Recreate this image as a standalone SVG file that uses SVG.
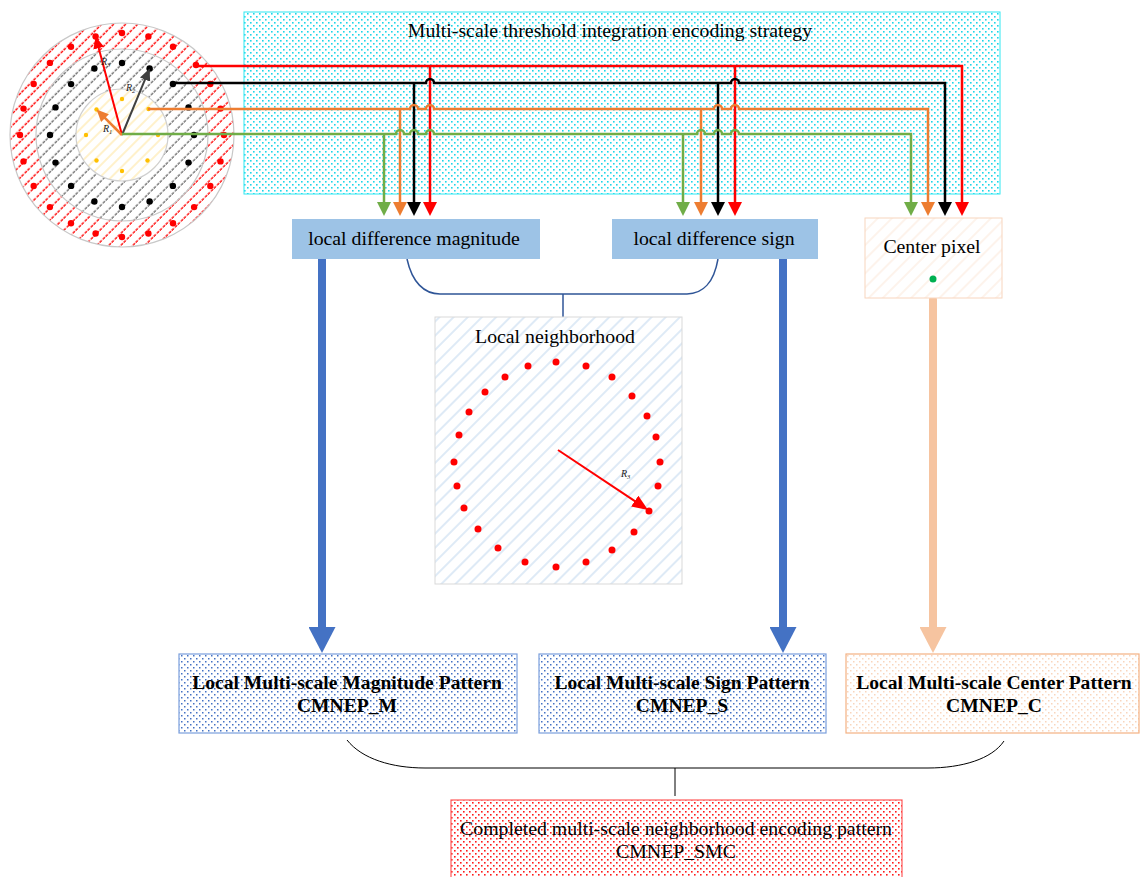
<svg xmlns="http://www.w3.org/2000/svg" width="1140" height="877" viewBox="0 0 1140 877">
<style>
.t{font-family:"Liberation Serif","Times New Roman",serif;fill:#000;text-anchor:middle;font-size:19.8px}
.b{font-weight:bold;font-size:19.6px}
.lbl{font-family:"Liberation Serif",serif;font-style:italic;font-size:10px;fill:#222}
.ln{fill:none;stroke-width:2.5}
.red{stroke:#FF0000}.blk{stroke:#000}.org{stroke:#ED7D31}.grn{stroke:#70AD47}
</style>
<defs>
<pattern id="cyanDots" patternUnits="userSpaceOnUse" width="6" height="6"><rect width="6" height="6" fill="#fff"/><rect x="1" y="1" width="1.6" height="1.6" fill="#1ED6E8"/><rect x="4" y="4" width="1.6" height="1.6" fill="#1ED6E8"/></pattern>
<pattern id="blueDots" patternUnits="userSpaceOnUse" width="6" height="6"><rect width="6" height="6" fill="#fff"/><rect x="1" y="1" width="1.5" height="1.5" fill="#4472C4"/><rect x="4" y="4" width="1.5" height="1.5" fill="#4472C4"/></pattern>
<pattern id="peachDots" patternUnits="userSpaceOnUse" width="6" height="6"><rect width="6" height="6" fill="#fff"/><rect x="1" y="1" width="1.5" height="1.5" fill="#F9D5BC"/><rect x="4" y="4" width="1.5" height="1.5" fill="#F9D5BC"/></pattern>
<pattern id="redDots" patternUnits="userSpaceOnUse" width="6" height="6"><rect width="6" height="6" fill="#fff"/><rect x="1" y="1" width="1.6" height="1.6" fill="#FF1A1A"/><rect x="4" y="4" width="1.6" height="1.6" fill="#FF1A1A"/></pattern>
<pattern id="redHatch" patternUnits="userSpaceOnUse" width="8.5" height="8.5" patternTransform="rotate(45)"><rect width="8.5" height="8.5" fill="#fff"/><line x1="4" y1="0" x2="4" y2="8.5" stroke="#FF0000" stroke-width="1.4" stroke-dasharray="3 1.5"/></pattern>
<pattern id="grayHatch" patternUnits="userSpaceOnUse" width="8.5" height="8.5" patternTransform="rotate(45)"><rect width="8.5" height="8.5" fill="#fff"/><line x1="4" y1="0" x2="4" y2="8.5" stroke="#555" stroke-width="1.2" stroke-dasharray="3 1.5"/></pattern>
<pattern id="yellowHatch" patternUnits="userSpaceOnUse" width="8" height="8" patternTransform="rotate(45)"><rect width="8" height="8" fill="#fff"/><line x1="4" y1="0" x2="4" y2="8" stroke="#FFE8A8" stroke-width="1.2"/></pattern>
<pattern id="blueHatch" patternUnits="userSpaceOnUse" width="10" height="10" patternTransform="rotate(45)"><rect width="10" height="10" fill="#fff"/><line x1="5" y1="0" x2="5" y2="10" stroke="#C9DCF0" stroke-width="1.2"/></pattern>
<pattern id="peachHatch" patternUnits="userSpaceOnUse" width="10" height="10" patternTransform="rotate(45)"><rect width="10" height="10" fill="#fff"/><line x1="5" y1="0" x2="5" y2="10" stroke="#FCEBDF" stroke-width="1.2"/></pattern>
<marker id="aRed" markerUnits="userSpaceOnUse" viewBox="0 0 14 14" markerWidth="14" markerHeight="14" refX="2" refY="7" orient="auto"><path d="M0,0 L14,7 L0,14 z" fill="#FF0000"/></marker>
<marker id="aBlk" markerUnits="userSpaceOnUse" viewBox="0 0 14 14" markerWidth="14" markerHeight="14" refX="2" refY="7" orient="auto"><path d="M0,0 L14,7 L0,14 z" fill="#000"/></marker>
<marker id="aOrg" markerUnits="userSpaceOnUse" viewBox="0 0 14 14" markerWidth="14" markerHeight="14" refX="2" refY="7" orient="auto"><path d="M0,0 L14,7 L0,14 z" fill="#ED7D31"/></marker>
<marker id="aGrn" markerUnits="userSpaceOnUse" viewBox="0 0 14 14" markerWidth="14" markerHeight="14" refX="2" refY="7" orient="auto"><path d="M0,0 L14,7 L0,14 z" fill="#70AD47"/></marker>
<marker id="sRed" markerUnits="userSpaceOnUse" viewBox="0 0 12 11" markerWidth="12" markerHeight="11" refX="2" refY="5.5" orient="auto"><path d="M0,0 L12,5.5 L0,11 z" fill="#FF0000"/></marker>
<marker id="sBlk" markerUnits="userSpaceOnUse" viewBox="0 0 12 11" markerWidth="12" markerHeight="11" refX="2" refY="5.5" orient="auto"><path d="M0,0 L12,5.5 L0,11 z" fill="#404040"/></marker>
<marker id="sOrg" markerUnits="userSpaceOnUse" viewBox="0 0 12 11" markerWidth="12" markerHeight="11" refX="2" refY="5.5" orient="auto"><path d="M0,0 L12,5.5 L0,11 z" fill="#ED7D31"/></marker>
<marker id="nRed" markerUnits="userSpaceOnUse" viewBox="0 0 16 13" markerWidth="16" markerHeight="13" refX="2" refY="6.5" orient="auto"><path d="M0,0 L16,6.5 L0,13 z" fill="#FF0000"/></marker>
<marker id="bigBlue" markerUnits="userSpaceOnUse" viewBox="0 0 26 27" markerWidth="26" markerHeight="27" refX="0" refY="13.5" orient="auto"><path d="M0,0 L26,13.5 L0,27 z" fill="#4472C4"/></marker>
<marker id="bigPeach" markerUnits="userSpaceOnUse" viewBox="0 0 26 27" markerWidth="26" markerHeight="27" refX="0" refY="13.5" orient="auto"><path d="M0,0 L26,13.5 L0,27 z" fill="#F6C4A0"/></marker>
</defs>

<g id="strategy">
<rect x="244" y="12" width="756" height="182" fill="url(#cyanDots)" stroke="#2EE8F2" stroke-width="1"/>
<text class="t" x="610" y="37">Multi-scale threshold integration encoding strategy</text>
</g>

<g id="multiscale-circle">
<circle cx="122" cy="135" r="112" fill="url(#redHatch)" stroke="#C8C8C8" stroke-width="1.2"/>
<circle cx="122" cy="135" r="86" fill="url(#grayHatch)" stroke="#C8C8C8" stroke-width="1.2"/>
<circle cx="122" cy="135" r="46" fill="url(#yellowHatch)" stroke="#D0D0D0" stroke-width="1.2"/>
<g fill="#FF0000">
<circle cx="224" cy="135" r="3.2"/><circle cx="220.5" cy="108.6" r="3.2"/><circle cx="210.3" cy="84" r="3.2"/><circle cx="196" cy="65" r="3.2"/><circle cx="173" cy="46.7" r="3.2"/><circle cx="148.4" cy="36.5" r="3.2"/><circle cx="122" cy="33" r="3.2"/><circle cx="95.6" cy="36.5" r="3.2"/><circle cx="71" cy="46.7" r="3.2"/><circle cx="49.9" cy="62.9" r="3.2"/><circle cx="33.7" cy="84" r="3.2"/><circle cx="23.5" cy="108.6" r="3.2"/><circle cx="20" cy="135" r="3.2"/><circle cx="23.5" cy="161.4" r="3.2"/><circle cx="33.7" cy="186" r="3.2"/><circle cx="49.9" cy="207.1" r="3.2"/><circle cx="71" cy="223.3" r="3.2"/><circle cx="95.6" cy="233.5" r="3.2"/><circle cx="122" cy="237" r="3.2"/><circle cx="148.4" cy="233.5" r="3.2"/><circle cx="173" cy="223.3" r="3.2"/><circle cx="194.1" cy="207.1" r="3.2"/><circle cx="210.3" cy="186" r="3.2"/><circle cx="220.5" cy="161.4" r="3.2"/>
</g>
<g fill="#000">
<circle cx="194" cy="135" r="3.2"/><circle cx="188.5" cy="107.4" r="3.2"/><circle cx="172.9" cy="84" r="3.2"/><circle cx="149.6" cy="68.5" r="3.2"/><circle cx="122" cy="63" r="3.2"/><circle cx="94.4" cy="68.5" r="3.2"/><circle cx="71.1" cy="84.1" r="3.2"/><circle cx="55.5" cy="107.4" r="3.2"/><circle cx="50" cy="135" r="3.2"/><circle cx="55.5" cy="162.6" r="3.2"/><circle cx="71.1" cy="185.9" r="3.2"/><circle cx="94.4" cy="201.5" r="3.2"/><circle cx="122" cy="207" r="3.2"/><circle cx="149.6" cy="201.5" r="3.2"/><circle cx="172.9" cy="185.9" r="3.2"/><circle cx="188.5" cy="162.6" r="3.2"/>
</g>
<g fill="#FFC000">
<circle cx="158" cy="135" r="2.2"/><circle cx="148.5" cy="109" r="2.2"/><circle cx="122" cy="99" r="2.2"/><circle cx="96.5" cy="109.5" r="2.2"/><circle cx="86" cy="135" r="2.2"/><circle cx="96.5" cy="160.5" r="2.2"/><circle cx="122" cy="171" r="2.2"/><circle cx="147.5" cy="160.5" r="2.2"/>
</g>
<line x1="122" y1="135" x2="98.2" y2="46.2" stroke="#FF0000" stroke-width="2" marker-end="url(#sRed)"/>
<line x1="122" y1="135" x2="145.8" y2="77.7" stroke="#404040" stroke-width="2" marker-end="url(#sBlk)"/>
<line x1="122" y1="135" x2="103.6" y2="116.6" stroke="#ED7D31" stroke-width="2.6" marker-end="url(#sOrg)"/>
<text class="lbl" x="101" y="65">R<tspan font-size="6.5" dy="2">3</tspan></text>
<text class="lbl" x="126" y="91">R<tspan font-size="6.5" dy="2">2</tspan></text>
<text class="lbl" x="103" y="132">R<tspan font-size="6.5" dy="2">1</tspan></text>
</g>

<g id="connectors">
<path class="ln red" d="M196,66 H962 V204" marker-end="url(#aRed)"/>
<path class="ln red" d="M430,66 V204" marker-end="url(#aRed)"/>
<path class="ln red" d="M735,66 V204" marker-end="url(#aRed)"/>
<path class="ln blk" d="M172,83 H426 a4,4 0 0 1 8,0 H731 a4,4 0 0 1 8,0 H945 V204" marker-end="url(#aBlk)"/>
<path class="ln blk" d="M414,83 V204" marker-end="url(#aBlk)"/>
<path class="ln blk" d="M718,83 V204" marker-end="url(#aBlk)"/>
<path class="ln org" d="M148,109 H410 a4,4 0 0 1 8,0 H426 a4,4 0 0 1 8,0 H714 a4,4 0 0 1 8,0 H731 a4,4 0 0 1 8,0 H928 V204" marker-end="url(#aOrg)"/>
<path class="ln org" d="M400,109 V204" marker-end="url(#aOrg)"/>
<path class="ln org" d="M701,109 V204" marker-end="url(#aOrg)"/>
<path class="ln grn" d="M122,134 H396 a4,4 0 0 1 8,0 H410 a4,4 0 0 1 8,0 H426 a4,4 0 0 1 8,0 H697 a4,4 0 0 1 8,0 H714 a4,4 0 0 1 8,0 H731 a4,4 0 0 1 8,0 H911 V204" marker-end="url(#aGrn)"/>
<path class="ln grn" d="M384,134 V204" marker-end="url(#aGrn)"/>
<path class="ln grn" d="M683,134 V204" marker-end="url(#aGrn)"/>
<path d="M407,259 C412,282 424,294 440,294 H687 C703,294 714,282 718,259" fill="none" stroke="#2F5597" stroke-width="1.5"/>
<line x1="563" y1="294" x2="563" y2="317" stroke="#2F5597" stroke-width="1.5"/>
<line x1="322" y1="258" x2="322" y2="627" stroke="#4472C4" stroke-width="8" stroke-linecap="round" marker-end="url(#bigBlue)"/>
<line x1="783" y1="258" x2="783" y2="627" stroke="#4472C4" stroke-width="8" stroke-linecap="round" marker-end="url(#bigBlue)"/>
<line x1="933" y1="300" x2="933" y2="627" stroke="#F6C4A0" stroke-width="8" stroke-linecap="round" marker-end="url(#bigPeach)"/>
<path d="M347,740 C362,759 392,768 425,768 H928 C962,768 992,759 1004,741" fill="none" stroke="#000" stroke-width="1"/>
<line x1="675" y1="768" x2="675" y2="796" stroke="#000" stroke-width="1"/>
</g>

<g id="ld-magnitude">
<rect x="292" y="219" width="248" height="40" fill="#9DC3E6"/>
<text class="t" x="414" y="245">local difference magnitude</text>
</g>
<g id="ld-sign">
<rect x="612" y="219" width="206" height="40" fill="#9DC3E6"/>
<text class="t" x="714" y="245">local difference sign</text>
</g>
<g id="center-pixel">
<rect x="865" y="218" width="137" height="80" fill="url(#peachHatch)" stroke="#F8D5BE" stroke-width="1"/>
<text class="t" x="932" y="253">Center pixel</text>
<circle cx="933" cy="279" r="3.5" fill="#00B050"/>
</g>

<g id="local-neighborhood">
<rect x="435" y="317" width="247" height="267" fill="url(#blueHatch)" stroke="#D9D9D9" stroke-width="1"/>
<text class="t" x="555" y="343">Local neighborhood</text>
<g fill="#FF0000">
<circle cx="556" cy="362" r="3.5"/><circle cx="586" cy="366" r="3.5"/><circle cx="612" cy="377" r="3.5"/><circle cx="632" cy="396" r="3.5"/><circle cx="647" cy="416" r="3.5"/><circle cx="656" cy="437" r="3.5"/><circle cx="660" cy="462" r="3.5"/><circle cx="658" cy="486" r="3.5"/><circle cx="649" cy="511" r="3.5"/><circle cx="634" cy="532" r="3.5"/><circle cx="612" cy="550" r="3.5"/><circle cx="586" cy="562" r="3.5"/><circle cx="556" cy="567" r="3.5"/><circle cx="525" cy="562" r="3.5"/><circle cx="498" cy="548" r="3.5"/><circle cx="478" cy="529" r="3.5"/><circle cx="464" cy="508" r="3.5"/><circle cx="457" cy="486" r="3.5"/><circle cx="454" cy="462" r="3.5"/><circle cx="459" cy="435" r="3.5"/><circle cx="469" cy="412" r="3.5"/><circle cx="485" cy="392" r="3.5"/><circle cx="505" cy="377" r="3.5"/><circle cx="528" cy="366" r="3.5"/>
</g>
<line x1="558" y1="450" x2="636.4" y2="502.2" stroke="#FF0000" stroke-width="2" marker-end="url(#nRed)"/>
<text class="lbl" x="621" y="477">R<tspan font-size="6.5" dy="2">3</tspan></text>
</g>

<g id="pattern-m">
<rect x="179" y="654" width="338" height="79" fill="url(#blueDots)" stroke="#7A9EDC" stroke-width="1.2"/>
<text class="t b" x="347" y="689">Local Multi-scale Magnitude Pattern</text>
<text class="t b" x="347" y="712">CMNEP_M</text>
</g>
<g id="pattern-s">
<rect x="539" y="654" width="287" height="79" fill="url(#blueDots)" stroke="#7A9EDC" stroke-width="1.2"/>
<text class="t b" x="682" y="689">Local Multi-scale Sign Pattern</text>
<text class="t b" x="682" y="712">CMNEP_S</text>
</g>
<g id="pattern-c">
<rect x="846" y="654" width="293" height="79" fill="url(#peachDots)" stroke="#F4B183" stroke-width="1.2"/>
<text class="t b" x="994" y="689">Local Multi-scale Center Pattern</text>
<text class="t b" x="994" y="712">CMNEP_C</text>
</g>
<g id="pattern-smc">
<rect x="451" y="800" width="451" height="82" fill="url(#redDots)" stroke="#FF5A5A" stroke-width="1.2"/>
<text class="t" x="676" y="835">Completed multi-scale neighborhood encoding pattern</text>
<text class="t" x="676" y="858">CMNEP_SMC</text>
</g>
</svg>
